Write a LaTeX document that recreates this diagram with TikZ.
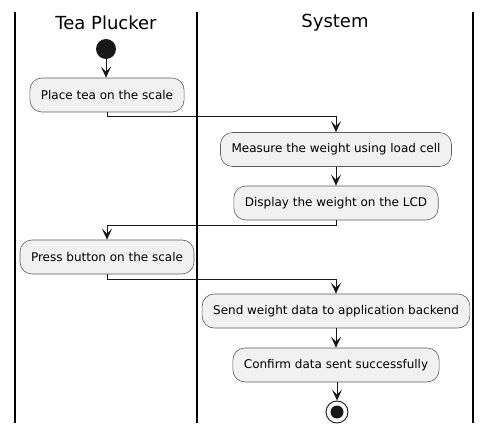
\documentclass[tikz,border=0pt]{standalone}
\usepackage{fontspec}
\setmainfont{DejaVu Sans}
\usetikzlibrary{arrows.meta}
\definecolor{umlline}{HTML}{181818}
\definecolor{umlfill}{HTML}{F1F1F1}
\tikzset{
  action/.style={draw=umlline!70,fill=umlfill,rounded corners=12pt,line width=0.6pt,
    minimum height=34pt,inner xsep=11pt,font=\fontsize{12pt}{14pt}\selectfont},
  lane/.style={font=\fontsize{18pt}{20pt}\selectfont},
  flow/.style={draw=umlline,line width=1pt,-{Stealth[length=11pt,width=10pt,inset=5pt]}},
  bar/.style={draw=black,line width=1.1pt}
}
\begin{document}
\begin{tikzpicture}[x=1pt,y=1pt]
        \useasboundingbox (0,0) rectangle (492,-435);
        %swimlanes
        \draw[bar] (15,-12) -- (15,-423);
        \draw[bar] (197,-12) -- (197,-423);
        \draw[bar] (473,-12) -- (473,-423);
        \node[lane] (plucker) at (106,-23) {Tea Plucker};
        \node[lane] (system) at (335,-23) {System};
        %start and end
        \node[circle,fill=umlline,minimum size=20pt,inner sep=0pt] (start) at (106,-49) {};
        \node[circle,draw=umlline,line width=0.9pt,minimum size=22pt,inner sep=0pt] (stop) at (337,-412) {};
        \node[circle,fill=umlline,minimum size=13pt,inner sep=0pt] at (stop) {};
        %actions
        \node[action] (place) at (107,-95) {Place tea on the scale};
        \node[action] (measure) at (336,-149.5) {Measure the weight using load cell};
        \node[action] (display) at (336,-203) {Display the weight on the LCD};
        \node[action] (press) at (107,-257) {Press button on the scale};
        \node[action] (send) at (336,-311) {Send weight data to application backend};
        \node[action] (confirm) at (336,-365) {Confirm data sent successfully};
        %flows
        \draw[flow] (start) -- (start |- place.north);
        \draw[flow] (place.south) -- ++(0,-4) -| (measure.north);
        \draw[flow] (measure) -- (display);
        \draw[flow] (display.south) -- ++(0,-5) -| (press.north -| place);
        \draw[flow] (press.south -| place) -- ++(0,-5) -| (send.north);
        \draw[flow] (send) -- (confirm);
        \draw[flow] (confirm.south -| stop) -- (stop);
    \end{tikzpicture}
\end{document}
